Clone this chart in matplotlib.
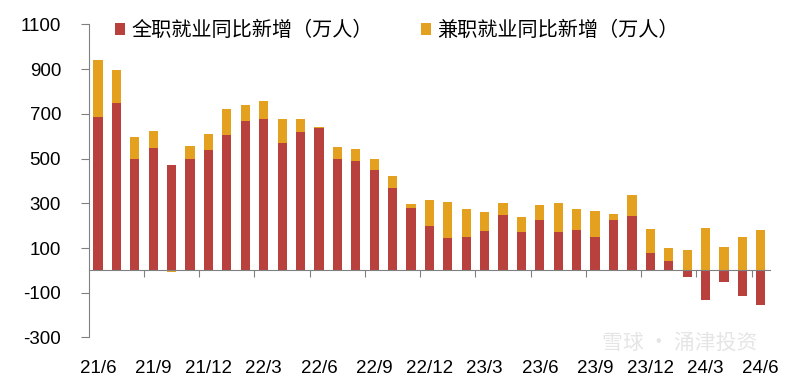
import numpy as np
import matplotlib.pyplot as plt

plt.rcParams['font.family'] = ['Liberation Sans', 'Noto Sans CJK SC', 'DejaVu Sans']
plt.rcParams['axes.unicode_minus'] = False

# Months 21/6 .. 24/6
months = ["21/6", "21/7", "21/8", "21/9", "21/10", "21/11", "21/12",
          "22/1", "22/2", "22/3", "22/4", "22/5", "22/6", "22/7", "22/8", "22/9",
          "22/10", "22/11", "22/12",
          "23/1", "23/2", "23/3", "23/4", "23/5", "23/6", "23/7", "23/8", "23/9",
          "23/10", "23/11", "23/12",
          "24/1", "24/2", "24/3", "24/4", "24/5", "24/6"]

# full-time employment yoy change (10k people)
full_time = [685, 747, 497, 547, 472, 498, 540,
             604, 669, 679, 570, 617, 638, 498, 491, 451,
             368, 279, 199,
             143, 148, 177, 248, 174, 224, 170, 180, 150,
             227, 244, 76,
             44, -29, -134, -54, -115, -155]

# part-time employment yoy change (10k people)
part_time = [255, 148, 101, 76, -8, 60, 72,
             118, 70, 79, 109, 62, 2, 55, 52, 46,
             53, 17, 114,
             163, 128, 83, 55, 65, 69, 132, 96, 116,
             27, 93, 108,
             55, 91, 189, 103, 150, 180]

tick_labels = ["21/6", "21/9", "21/12", "22/3", "22/6", "22/9", "22/12",
               "23/3", "23/6", "23/9", "23/12", "24/3", "24/6"]

red = "#B8413E"
gold = "#E3A11F"

x = np.arange(len(months))
ft = np.array(full_time)
pt = np.array(part_time)
# positives and negatives stack separately (Excel style)
pt_bottom = np.where(pt >= 0, np.maximum(ft, 0), np.minimum(ft, 0))

fig = plt.figure(figsize=(8, 3.79), dpi=100)
ax = fig.add_axes([0.111, 0.1095, 0.8515, 0.826])

ax.bar(x, ft, width=0.5, color=red, label="全职就业同比新增（万人）", zorder=2)
ax.bar(x, pt, width=0.5, bottom=pt_bottom, color=gold,
       label="兼职就业同比新增（万人）", zorder=2)

ax.set_xlim(-0.5, len(months) - 0.5)
ax.set_ylim(-300, 1100)
ax.set_yticks(np.arange(-300, 1101, 200))
ax.tick_params(axis='y', direction='out', length=6, color='#808080',
               labelsize=13.5, pad=14)

for s in ['top', 'right']:
    ax.spines[s].set_visible(False)
ax.spines['left'].set_color('#808080')
ax.spines['bottom'].set_color('#808080')
ax.spines['bottom'].set_position(('data', 0))
ax.spines['bottom'].set_zorder(3)

# tick marks on the zero line between quarters
label_pos = [months.index(m) for m in tick_labels]
ax.set_xticks([p - 0.5 for p in label_pos[1:]])
ax.set_xticklabels([])
ax.tick_params(axis='x', direction='out', length=5, color='#808080')

# month labels at the bottom of the axes
sec = ax.secondary_xaxis(0.0)
sec.set_xticks(label_pos)
sec.set_xticklabels(tick_labels, fontsize=13.5)
sec.tick_params(length=0, pad=16)
sec.spines['bottom'].set_visible(False)

ax.legend(loc='upper left', bbox_to_anchor=(0.134, 0.968), bbox_transform=fig.transFigure,
          ncol=2, frameon=False, borderaxespad=0, handlelength=0.5, handleheight=0.5,
          handletextpad=0.3, columnspacing=2.4,
          prop={'family': ['Noto Sans CJK SC'], 'size': 14.5})

# faint watermark
fig.text(0.85, 0.095, "雪球 · 涌津投资", fontsize=15, color='#d0d0d0', alpha=0.55,
         ha='center', va='center', family=['Noto Sans CJK SC'], zorder=0)

fig.savefig("out.png", dpi=100)
